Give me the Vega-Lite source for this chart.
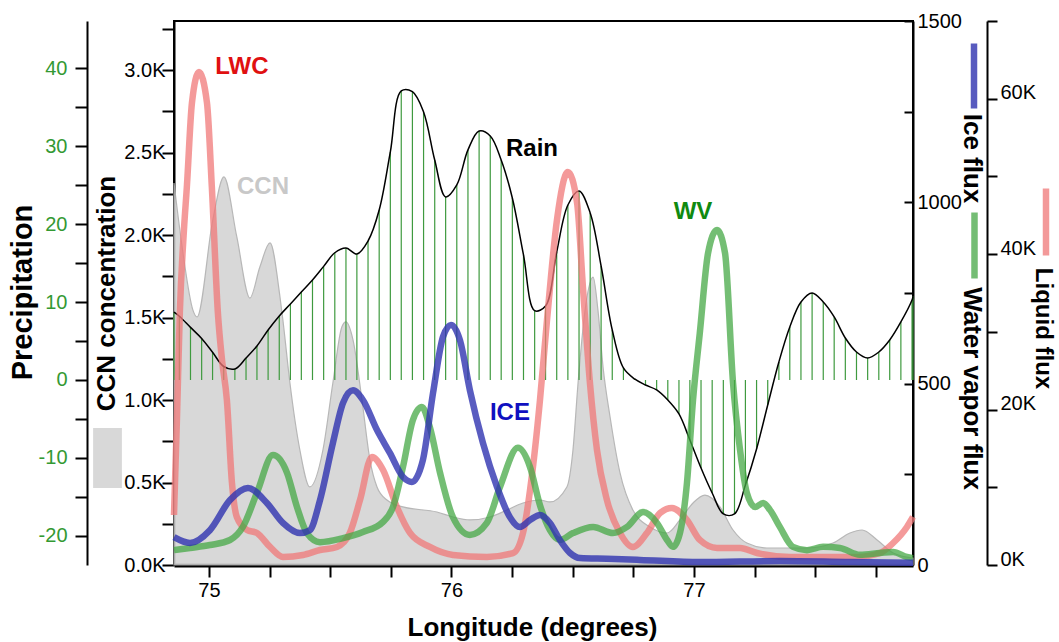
{
"$schema": "https://vega.github.io/schema/vega-lite/v6.json",
"width": 739,
"height": 544,
"autosize": {"type": "none"},
"padding": {"left": 174, "top": 21, "right": 146, "bottom": 77},
"background": "white",
"config": {
  "font": "Liberation Sans",
  "view": {"stroke": "#000000", "strokeWidth": 2},
  "axis": {"grid": false, "domainColor": "#000000", "tickColor": "#000000", "labelColor": "#000000", "titleColor": "#000000", "labelFont": "Liberation Sans", "titleFont": "Liberation Sans", "labelFontSize": 20, "titleFontSize": 26, "titleFontWeight": "bold", "labelOverlap": false, "labelFlush": false, "domainWidth": 2, "tickWidth": 2}
},
"datasets": {
  "rain": [
    {"lon":74.856,"rain":8.7},{"lon":74.878,"rain":8.18},{"lon":74.924,"rain":6.75},{"lon":74.970,"rain":5.33},{"lon":75.015,"rain":3.56},{"lon":75.061,"rain":1.73},{"lon":75.107,"rain":1.41},{"lon":75.153,"rain":2.82},{"lon":75.198,"rain":4.36},{"lon":75.244,"rain":6.42},{"lon":75.290,"rain":8.22},{"lon":75.336,"rain":9.76},{"lon":75.381,"rain":11.30},{"lon":75.427,"rain":12.84},{"lon":75.473,"rain":14.58},{"lon":75.519,"rain":16.33},{"lon":75.565,"rain":16.94},{"lon":75.610,"rain":16.17},{"lon":75.656,"rain":17.84},{"lon":75.702,"rain":21.82},{"lon":75.748,"rain":29.27},{"lon":75.793,"rain":37.1},{"lon":75.839,"rain":37.0},{"lon":75.885,"rain":34.40},{"lon":75.931,"rain":28.24},{"lon":75.976,"rain":23.49},{"lon":76.022,"rain":25.03},{"lon":76.068,"rain":29.53},{"lon":76.114,"rain":31.96},{"lon":76.160,"rain":31.32},{"lon":76.205,"rain":28.24},{"lon":76.251,"rain":23.36},{"lon":76.297,"rain":16.05},{"lon":76.343,"rain":8.9},{"lon":76.388,"rain":9.5},{"lon":76.434,"rain":16.43},{"lon":76.480,"rain":22.46},{"lon":76.526,"rain":24.26},{"lon":76.572,"rain":21.44},{"lon":76.617,"rain":14.63},{"lon":76.663,"rain":6.42},{"lon":76.709,"rain":1.54},{"lon":76.755,"rain":0.13},{"lon":76.800,"rain":-0.64},{"lon":76.846,"rain":-1.28},{"lon":76.892,"rain":-2.57},{"lon":76.938,"rain":-4.36},{"lon":76.983,"rain":-7.70},{"lon":77.029,"rain":-11.30},{"lon":77.075,"rain":-14.51},{"lon":77.121,"rain":-17.2},{"lon":77.167,"rain":-17.2},{"lon":77.212,"rain":-13.48},{"lon":77.258,"rain":-8.86},{"lon":77.304,"rain":-3.21},{"lon":77.350,"rain":2.31},{"lon":77.395,"rain":6.80},{"lon":77.441,"rain":10.01},{"lon":77.487,"rain":11.17},{"lon":77.533,"rain":10.01},{"lon":77.578,"rain":8.09},{"lon":77.624,"rain":5.39},{"lon":77.670,"rain":3.59},{"lon":77.716,"rain":2.82},{"lon":77.762,"rain":3.59},{"lon":77.807,"rain":5.13},{"lon":77.853,"rain":7.45},{"lon":77.899,"rain":10.27},{"lon":77.903,"rain":10.7}
  ],
  "ccn": [
    {"lon":74.856,"ccn":2315},{"lon":74.893,"ccn":1891},{"lon":74.934,"ccn":1545},{"lon":74.951,"ccn":1503},{"lon":75.016,"ccn":2091},{"lon":75.062,"ccn":2352},{"lon":75.115,"ccn":1988},{"lon":75.169,"ccn":1618},{"lon":75.210,"ccn":1806},{"lon":75.252,"ccn":1952},{"lon":75.293,"ccn":1624},{"lon":75.305,"ccn":1485},{"lon":75.334,"ccn":1103},{"lon":75.375,"ccn":697},{"lon":75.416,"ccn":473},{"lon":75.470,"ccn":697},{"lon":75.511,"ccn":1103},{"lon":75.548,"ccn":1442},{"lon":75.565,"ccn":1473},{"lon":75.594,"ccn":1364},{"lon":75.631,"ccn":1000},{"lon":75.664,"ccn":636},{"lon":75.693,"ccn":473},{"lon":75.734,"ccn":394},{"lon":75.800,"ccn":352},{"lon":75.940,"ccn":321},{"lon":76.006,"ccn":291},{"lon":76.076,"ccn":273},{"lon":76.159,"ccn":291},{"lon":76.229,"ccn":333},{"lon":76.295,"ccn":376},{"lon":76.365,"ccn":394},{"lon":76.406,"ccn":382},{"lon":76.476,"ccn":473},{"lon":76.501,"ccn":697},{"lon":76.522,"ccn":1103},{"lon":76.551,"ccn":1545},{"lon":76.584,"ccn":1745},{"lon":76.604,"ccn":1545},{"lon":76.625,"ccn":1200},{"lon":76.654,"ccn":897},{"lon":76.695,"ccn":558},{"lon":76.748,"ccn":333},{"lon":76.819,"ccn":230},{"lon":76.889,"ccn":194},{"lon":76.942,"ccn":273},{"lon":76.996,"ccn":376},{"lon":77.045,"ccn":424},{"lon":77.107,"ccn":352},{"lon":77.161,"ccn":212},{"lon":77.218,"ccn":133},{"lon":77.301,"ccn":103},{"lon":77.466,"ccn":103},{"lon":77.573,"ccn":133},{"lon":77.643,"ccn":194},{"lon":77.693,"ccn":212},{"lon":77.755,"ccn":152},{"lon":77.821,"ccn":73},{"lon":77.903,"ccn":42}
  ],
  "lwc": [
    {"lon":74.856,"liq":6435},{"lon":74.868,"liq":18660},{"lon":74.880,"liq":32430},{"lon":74.897,"liq":43110},{"lon":74.909,"liq":48650},{"lon":74.930,"liq":59460},{"lon":74.959,"liq":63450},{"lon":74.992,"liq":59460},{"lon":75.012,"liq":48650},{"lon":75.037,"liq":32430},{"lon":75.054,"liq":26380},{"lon":75.074,"liq":21240},{"lon":75.095,"liq":10550},{"lon":75.115,"liq":6180},{"lon":75.157,"liq":4500},{"lon":75.198,"liq":4120},{"lon":75.252,"liq":2320},{"lon":75.305,"liq":1030},{"lon":75.388,"liq":1290},{"lon":75.458,"liq":1930},{"lon":75.528,"liq":2320},{"lon":75.581,"liq":4120},{"lon":75.623,"liq":8370},{"lon":75.672,"liq":13900},{"lon":75.718,"liq":12230},{"lon":75.775,"liq":7460},{"lon":75.829,"liq":4120},{"lon":75.911,"liq":2320},{"lon":76.006,"liq":1290},{"lon":76.146,"liq":1030},{"lon":76.254,"liq":1540},{"lon":76.295,"liq":4120},{"lon":76.336,"liq":12610},{"lon":76.365,"liq":21240},{"lon":76.394,"liq":31530},{"lon":76.435,"liq":44400},{"lon":76.480,"liq":50580},{"lon":76.518,"liq":46590},{"lon":76.542,"liq":35780},{"lon":76.571,"liq":23420},{"lon":76.600,"liq":14800},{"lon":76.641,"liq":8370},{"lon":76.695,"liq":4120},{"lon":76.748,"liq":2320},{"lon":76.806,"liq":4120},{"lon":76.860,"liq":6690},{"lon":76.909,"liq":7340},{"lon":76.971,"liq":5790},{"lon":77.024,"liq":3220},{"lon":77.095,"liq":2190},{"lon":77.190,"liq":2190},{"lon":77.260,"liq":1540},{"lon":77.396,"liq":1030},{"lon":77.532,"liq":1030},{"lon":77.672,"liq":1030},{"lon":77.767,"liq":1540},{"lon":77.821,"liq":2830},{"lon":77.878,"liq":4890},{"lon":77.903,"liq":6180}
  ],
  "ice": [
    {"lon":74.856,"flux":77},{"lon":74.922,"flux":61},{"lon":75.004,"flux":96},{"lon":75.087,"flux":179},{"lon":75.161,"flux":212},{"lon":75.239,"flux":171},{"lon":75.305,"flux":116},{"lon":75.375,"flux":88},{"lon":75.416,"flux":96},{"lon":75.458,"flux":179},{"lon":75.511,"flux":336},{"lon":75.553,"flux":447},{"lon":75.594,"flux":482},{"lon":75.635,"flux":455},{"lon":75.693,"flux":372},{"lon":75.746,"flux":309},{"lon":75.800,"flux":243},{"lon":75.837,"flux":229},{"lon":75.882,"flux":289},{"lon":75.924,"flux":474},{"lon":75.965,"flux":629},{"lon":75.998,"flux":662},{"lon":76.035,"flux":620},{"lon":76.076,"flux":482},{"lon":76.130,"flux":336},{"lon":76.188,"flux":215},{"lon":76.241,"flux":132},{"lon":76.282,"flux":105},{"lon":76.324,"flux":124},{"lon":76.365,"flux":138},{"lon":76.406,"flux":116},{"lon":76.447,"flux":69},{"lon":76.489,"flux":33},{"lon":76.530,"flux":19},{"lon":76.641,"flux":17},{"lon":76.777,"flux":14},{"lon":77.024,"flux":8},{"lon":77.354,"flux":11},{"lon":77.643,"flux":8},{"lon":77.903,"flux":6}
  ],
  "wv": [
    {"lon":74.856,"flux":41},{"lon":74.922,"flux":47},{"lon":75.004,"flux":55},{"lon":75.087,"flux":69},{"lon":75.140,"flux":105},{"lon":75.198,"flux":199},{"lon":75.264,"flux":303},{"lon":75.322,"flux":254},{"lon":75.363,"flux":160},{"lon":75.404,"flux":88},{"lon":75.458,"flux":63},{"lon":75.553,"flux":74},{"lon":75.635,"flux":91},{"lon":75.718,"flux":119},{"lon":75.759,"flux":160},{"lon":75.800,"flux":270},{"lon":75.841,"flux":400},{"lon":75.878,"flux":436},{"lon":75.911,"flux":380},{"lon":75.953,"flux":254},{"lon":76.006,"flux":132},{"lon":76.076,"flux":83},{"lon":76.146,"flux":116},{"lon":76.200,"flux":215},{"lon":76.274,"flux":323},{"lon":76.324,"flux":270},{"lon":76.365,"flux":165},{"lon":76.406,"flux":96},{"lon":76.447,"flux":69},{"lon":76.501,"flux":88},{"lon":76.584,"flux":105},{"lon":76.666,"flux":88},{"lon":76.724,"flux":105},{"lon":76.790,"flux":146},{"lon":76.847,"flux":116},{"lon":76.889,"flux":69},{"lon":76.913,"flux":50},{"lon":76.942,"flux":88},{"lon":76.971,"flux":226},{"lon":76.996,"flux":455},{"lon":77.024,"flux":640},{"lon":77.058,"flux":860},{"lon":77.095,"flux":924},{"lon":77.128,"flux":860},{"lon":77.161,"flux":502},{"lon":77.190,"flux":317},{"lon":77.218,"flux":199},{"lon":77.252,"flux":160},{"lon":77.285,"flux":171},{"lon":77.313,"flux":152},{"lon":77.354,"flux":105},{"lon":77.408,"flux":50},{"lon":77.466,"flux":41},{"lon":77.532,"flux":50},{"lon":77.602,"flux":47},{"lon":77.684,"flux":28},{"lon":77.767,"flux":33},{"lon":77.821,"flux":36},{"lon":77.878,"flux":22},{"lon":77.903,"flux":19}
  ],
  "labels": [
    {"label":"LWC","lon":75.136,"v":1373},{"label":"CCN","lon":75.223,"v":1042},{"label":"Rain","lon":76.332,"v":1147},{"label":"WV","lon":76.996,"v":973},{"label":"ICE","lon":76.241,"v":419}
  ]
},
"encoding": {
  "x": {"field": "lon", "type": "quantitative",
    "scale": {"domain": [74.856, 77.903], "nice": false, "zero": false},
    "axis": {"values": [75,75.25,75.5,75.75,76,76.25,76.5,76.75,77,77.25,77.5,77.75], "labelExpr": "datum.value % 1 === 0 ? '' + datum.value : ''", "tickSize": 12, "labelPadding": 3, "domainWidth": 4, "title": "Longitude (degrees)", "titleFontSize": 26, "titleX": 358, "titleY": 62, "titleAlign": "center", "titleBaseline": "middle"}}
},
"layer": [
  {"data": {"name": "ccn"},
   "mark": {"type": "area", "interpolate": "monotone", "stroke": "#b0b0b0", "strokeWidth": 1.2, "opacity": 0.9},
   "encoding": {
     "y": {"field": "ccn", "type": "quantitative", "scale": {"domain": [0, 3297], "nice": false, "zero": false},
       "axis": {"orient": "left", "offset": 0, "values": [0,250,500,750,1000,1250,1500,1750,2000,2250,2500,2750,3000,3250], "labelExpr": "datum.value % 500 === 0 ? format(datum.value/1000, '.1f') + 'K' : ''", "tickSize": 12, "labelPadding": -3, "title": "CCN concentration", "titleFontSize": 26, "titleX": -68, "titleY": 272, "titleAngle": -90, "titleAlign": "center", "titleBaseline": "middle"}},
     "color": {"datum": "CCN", "type": "nominal", "scale": {"range": ["#d4d4d4"]},
       "legend": {"orient": "none", "legendX": -96.5, "legendY": 407, "title": null, "labelExpr": "''", "symbolType": "M-0.48,-1H0.48V1H-0.48Z", "symbolSize": 3600, "symbolStrokeWidth": 0, "padding": 0}}
   }},
  {"data": {"name": "rain"},
   "mark": {"type": "rule", "color": "#3f9a3f", "strokeWidth": 1.2},
   "encoding": {
     "y": {"field": "rain", "type": "quantitative", "scale": {"domain": [-23.75, 46.08], "nice": false, "zero": false},
       "axis": {"orient": "left", "offset": 87, "values": [-20,-15,-10,-5,0,5,10,15,20,25,30,35,40], "labelExpr": "datum.value % 10 === 0 ? '' + datum.value : ''", "tickSize": 12, "labelPadding": 8, "labelColor": "#339933", "title": "Precipitation", "titleFontSize": 29, "titleX": -65, "titleY": 271, "titleAngle": -90, "titleAlign": "center", "titleBaseline": "middle"}},
     "y2": {"datum": 0}
   }},
  {"data": {"name": "rain"},
   "mark": {"type": "line", "interpolate": "catmull-rom", "color": "#000000", "strokeWidth": 1.5},
   "encoding": {
     "y": {"field": "rain", "type": "quantitative", "scale": {"domain": [-23.75, 46.08], "nice": false, "zero": false}, "axis": null}
   }},
  {"data": {"name": "lwc"},
   "mark": {"type": "line", "interpolate": "monotone", "strokeWidth": 6.5, "opacity": 0.75},
   "encoding": {
     "y": {"field": "liq", "type": "quantitative", "scale": {"domain": [0, 70000], "nice": false, "zero": false},
       "axis": {"orient": "right", "offset": 74, "values": [0,10000,20000,30000,40000,50000,60000,70000], "labelExpr": "datum.value % 20000 === 0 ? (datum.value/1000) + 'K' : ''", "tickSize": 10, "labelPadding": 3, "labelBaseline": "alphabetic", "title": "Liquid flux", "titleFontSize": 24, "titleX": 55, "titleY": 307, "titleAngle": 90, "titleAlign": "center", "titleBaseline": "middle"}},
     "color": {"datum": "Liquid flux", "type": "nominal", "scale": {"range": ["#f07878"]},
       "legend": {"orient": "none", "legendX": 835, "legendY": 164, "title": null, "labelExpr": "''", "symbolType": "M0,-1L0,1", "symbolSize": 4489, "symbolStrokeWidth": 6.5, "padding": 0}}
   }},
  {"data": {"name": "wv"},
   "mark": {"type": "line", "interpolate": "monotone", "strokeWidth": 6.5, "opacity": 0.75},
   "encoding": {
     "y": {"field": "flux", "type": "quantitative", "scale": {"domain": [0, 1500], "nice": false, "zero": false},
       "axis": {"orient": "right", "offset": 0, "domain": false, "ticks": false, "labels": false, "title": "Ice flux", "titleX": 58, "titleY": 137, "titleAngle": 90, "titleAlign": "center", "titleBaseline": "middle"}},
     "color": {"datum": "Water vapor flux", "type": "nominal", "scale": {"range": ["#46a846"]},
       "legend": {"orient": "none", "legendX": 764, "legendY": 188, "title": null, "labelExpr": "''", "symbolType": "M0,-1L0,1", "symbolSize": 4356, "symbolStrokeWidth": 6.5, "padding": 0}}
   }},
  {"data": {"name": "ice"},
   "mark": {"type": "line", "interpolate": "monotone", "strokeWidth": 6.5, "opacity": 0.8},
   "encoding": {
     "y": {"field": "flux", "type": "quantitative", "scale": {"domain": [0, 1500], "nice": false, "zero": false},
       "axis": {"orient": "right", "offset": 0, "values": [0,250,500,750,1000,1250,1500], "labelExpr": "datum.value % 500 === 0 ? '' + datum.value : ''", "tickSize": -9, "labelPadding": 13, "title": "Water vapor flux", "titleX": 58, "titleY": 367, "titleAngle": 90, "titleAlign": "center", "titleBaseline": "middle"}},
     "color": {"datum": "Ice flux", "type": "nominal", "scale": {"range": ["#2f33b0"]},
       "legend": {"orient": "none", "legendX": 764, "legendY": 19, "title": null, "labelExpr": "''", "symbolType": "M0,-1L0,1", "symbolSize": 4225, "symbolStrokeWidth": 6.5, "padding": 0}}
   }},
  {"data": {"name": "labels"},
   "mark": {"type": "text", "fontSize": 24, "fontWeight": "bold", "align": "center", "baseline": "middle"},
   "encoding": {
     "y": {"field": "v", "type": "quantitative", "scale": {"domain": [0, 1500], "nice": false, "zero": false}, "axis": null},
     "text": {"field": "label"},
     "color": {"field": "label", "type": "nominal", "scale": {"domain": ["LWC","CCN","Rain","WV","ICE"], "range": ["#e01010","#c8c8c8","#000000","#108a10","#1010c0"]}, "legend": null}
   }}
],
"resolve": {"scale": {"y": "independent", "color": "independent"}, "axis": {"y": "independent"}, "legend": {"color": "independent"}}
}
